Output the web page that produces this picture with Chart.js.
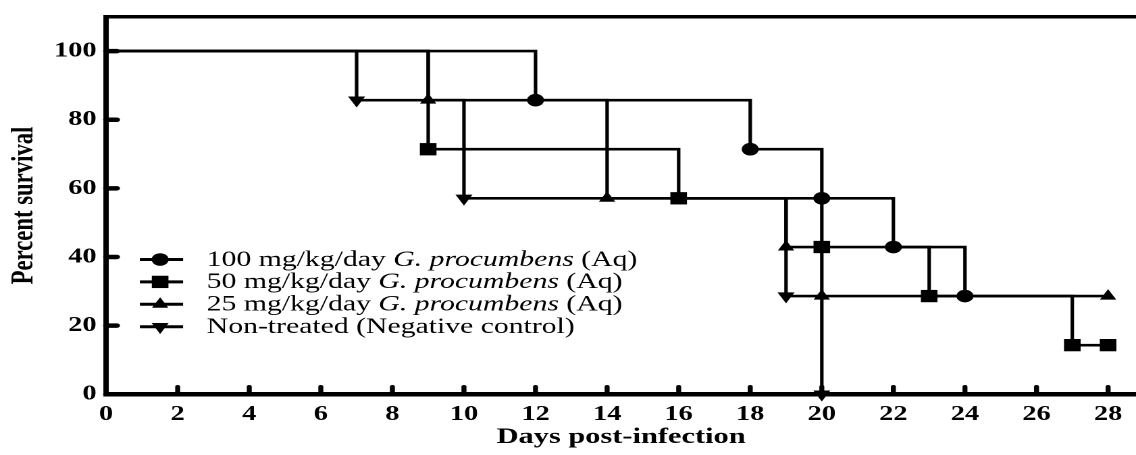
<!DOCTYPE html>
<html>
<head>
<meta charset="utf-8">
<style>
  html, body { margin: 0; padding: 0; background: #fff; overflow: hidden; }
  /* the source figure is stretched sideways, so the whole chart is too */
  #km { position: absolute; left: 0; top: 0; width: 841px; height: 455px;
        transform: scaleX(1.35077); transform-origin: 0 0; }
</style>
<script src="https://cdn.jsdelivr.net/npm/chart.js"></script>
</head>
<body>
<canvas id="km" width="841" height="455"></canvas>
<script>
const serif = "'Liberation Serif', 'Times New Roman', serif";

const xTicks = [0, 2, 4, 6, 8, 10, 12, 14, 16, 18, 20, 22, 24, 26, 28];
const yTicks = [0, 20, 40, 60, 80, 100];

// Kaplan-Meier steps: day of each drop and survival after it
const days100 = [0, 12, 18, 20, 22, 24];
const surv100 = [100, 85.7, 71.4, 57.1, 42.9, 28.6];
const days50 = [0, 9, 16, 20, 23, 27, 28];
const surv50 = [100, 71.4, 57.1, 42.9, 28.6, 14.3, 14.3];
const days25 = [0, 9, 14, 19, 20, 28];
const surv25 = [100, 85.7, 57.1, 42.9, 28.6, 28.6];
const daysNT = [0, 7, 10, 19, 20];
const survNT = [100, 85.7, 57.1, 28.6, 0];

const labelStart = ['100 mg/kg/day ', '50 mg/kg/day ', '25 mg/kg/day ', 'Non-treated (Negative control)'];
const labelItalic = ['G. procumbens', 'G. procumbens', 'G. procumbens', ''];
const labelEnd = [' (Aq)', ' (Aq)', ' (Aq)', ''];

function series(label, days, surv, style, radius, rotation) {
  return {
    label: label,
    data: days.map((d, i) => ({x: d, y: surv[i]})),
    borderColor: '#000',
    backgroundColor: '#000',
    borderWidth: 2.6,
    stepped: true,
    fill: false,
    clip: false,
    pointStyle: style,
    pointRotation: rotation,
    pointRadius: c => c.dataIndex === 0 ? 0 : radius,
    pointHoverRadius: c => c.dataIndex === 0 ? 0 : radius,
    pointBorderWidth: 0,
    pointBackgroundColor: '#000'
  };
}

function drawMarker(ctx, style, r, rot, x, y) {
  ctx.beginPath();
  if (style === 'circle') {
    ctx.arc(x, y, r, 0, Math.PI * 2);
  } else if (style === 'rect') {
    const h = r * Math.SQRT1_2;
    ctx.rect(x - h, y - h, 2 * h, 2 * h);
  } else {
    let a = rot * Math.PI / 180;
    for (let k = 0; k < 3; k++) {
      const px = x + Math.sin(a) * r, py = y - Math.cos(a) * r;
      k ? ctx.lineTo(px, py) : ctx.moveTo(px, py);
      a += 2 * Math.PI / 3;
    }
    ctx.closePath();
  }
  ctx.fill();
}

const frame = {
  id: 'frame',
  beforeDatasetsDraw(chart) {
    const {ctx, chartArea: a} = chart;
    const x = chart.scales.x, y = chart.scales.y;
    ctx.save();
    ctx.strokeStyle = '#000';
    ctx.lineWidth = 3.5;
    ctx.beginPath();
    ctx.moveTo(a.left - 2, a.top);
    ctx.lineTo(chart.width, a.top);
    ctx.stroke();
    ctx.lineCap = 'round';
    ctx.lineWidth = 3.7;
    xTicks.forEach(v => {
      const px = x.getPixelForValue(v);
      ctx.beginPath();
      ctx.moveTo(px, a.bottom);
      ctx.lineTo(px, a.bottom - 7.3);
      ctx.stroke();
    });
    ctx.lineWidth = 4.5;
    yTicks.forEach(v => {
      const py = y.getPixelForValue(v);
      ctx.beginPath();
      ctx.moveTo(a.left, py);
      ctx.lineTo(a.left + 8, py);
      ctx.stroke();
    });
    ctx.restore();
  }
};

const legendBox = {
  id: 'legendBox',
  afterDatasetsDraw(chart) {
    const {ctx, chartArea: a} = chart;
    ctx.save();
    ctx.fillStyle = '#000';
    ctx.strokeStyle = '#000';
    ctx.textBaseline = 'middle';
    chart.data.datasets.forEach((ds, i) => {
      const ly = 259.5 + i * 22.4;
      ctx.lineWidth = 3;
      ctx.beginPath();
      ctx.moveTo(a.left + 25, ly);
      ctx.lineTo(a.left + 57, ly);
      ctx.stroke();
      drawMarker(ctx, ds.pointStyle, ds.pointRadius({dataIndex: 1}), ds.pointRotation, a.left + 40, ly);
      let tx = a.left + 74.5;
      ctx.font = '22px ' + serif;
      ctx.fillText(labelStart[i], tx, ly + 0.5);
      tx += ctx.measureText(labelStart[i]).width;
      if (labelItalic[i]) {
        ctx.font = 'italic 22px ' + serif;
        ctx.fillText(labelItalic[i], tx, ly + 0.5);
        tx += ctx.measureText(labelItalic[i]).width;
      }
      ctx.font = '22px ' + serif;
      if (labelEnd[i]) ctx.fillText(labelEnd[i], tx, ly + 0.5);
    });
    ctx.restore();
  }
};

new Chart(document.getElementById('km'), {
  type: 'line',
  data: {
    datasets: [
      series('100 mg/kg/day G. procumbens (Aq)', days100, surv100, 'circle', 6.3, 0),
      series('50 mg/kg/day G. procumbens (Aq)', days50, surv50, 'rect', 8.7, 0),
      series('25 mg/kg/day G. procumbens (Aq)', days25, surv25, 'triangle', 7, 0),
      series('Non-treated (Negative control)', daysNT, survNT, 'triangle', 7.3, 180)
    ]
  },
  options: {
    responsive: false,
    animation: false,
    devicePixelRatio: 2,
    layout: {autoPadding: false, padding: {left: 0, top: 16.8, right: 0, bottom: 0}},
    plugins: {legend: {display: false}, tooltip: {enabled: false}},
    scales: {
      x: {
        type: 'linear',
        min: 0,
        max: 28.78,
        afterBuildTicks: s => { s.ticks = xTicks.map(v => ({value: v})); },
        afterFit: s => { s.height = 60.8; s.paddingLeft = 0; s.paddingRight = 0; },
        grid: {display: true, drawOnChartArea: false, drawTicks: false},
        border: {display: true, color: '#000', width: 4.5},
        ticks: {
          color: '#000', padding: 7.7, maxRotation: 0, autoSkip: false,
          font: {family: serif, size: 21, weight: 'bold'}
        },
        title: {
          display: true, text: 'Days post-infection', color: '#000',
          font: {family: serif, size: 22.5, weight: 'bold'},
          padding: {top: 0, bottom: 4.2}
        }
      },
      y: {
        min: 0,
        max: 110,
        afterBuildTicks: s => { s.ticks = yTicks.map(v => ({value: v})); },
        afterFit: s => { s.width = 78.55; s.paddingTop = 0; s.paddingBottom = 0; },
        grid: {display: true, drawOnChartArea: false, drawTicks: false},
        border: {display: true, color: '#000', width: 4},
        ticks: {
          color: '#000', padding: 7,
          font: {family: serif, size: 21, weight: 'bold'}
        },
        title: {
          display: true, text: 'Percent survival', color: '#000',
          font: {family: serif, size: 22.7, weight: 'bold'},
          padding: {top: 4.7, bottom: 0}
        }
      }
    }
  },
  plugins: [frame, legendBox]
});
</script>
</body>
</html>
